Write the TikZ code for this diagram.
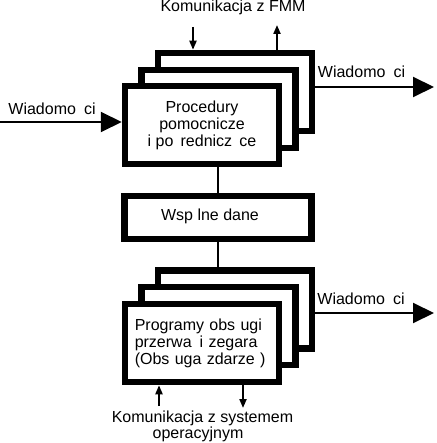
\documentclass[tikz,border=0pt]{standalone}
\usepackage{fontspec}
\setmainfont{Liberation Sans}
\usetikzlibrary{arrows.meta}
\begin{document}
\begin{tikzpicture}[x=1pt,y=-1pt,
  box/.style={draw, line width=6.5pt, fill=white, minimum width=154pt, minimum height=78pt, inner sep=0pt},
  txt/.style={font=\fontsize{16}{17}\selectfont},
  lbl/.style={txt, inner sep=0pt, anchor=base},
  conn/.style={line width=2pt},
  big/.style={conn, -{Triangle[length=21pt,width=20pt]}},
  small/.style={conn, -{Triangle[length=9pt,width=7pt]}}]
\useasboundingbox (0,0) rectangle (436,443);

% upper stack
\node[box] (t1) at (234.75,92) {};
\node[box] (m1) at (218.25,109) {};
\node[box, txt, align=center] (f1) at (202,125) {Procedury\\pomocnicze\\i po\hspace{.45em}rednicz\hspace{.45em}ce};

% shared data
\node[draw, line width=6.5pt, fill=white, minimum width=187pt, minimum height=43pt, inner sep=0pt] (wsp) at (218,217.5) {};
\node[lbl] (wsptxt) at (210,220) {Wsp lne dane};

% lower stack
\node[box] (t2) at (234.75,309.5) {};
\node[box] (m2) at (218.25,326) {};
\node[box, txt, align=left, text width=134pt] (f2) at (201.75,343) {Programy obs ugi\\przerwa\hspace{.5em}i zegara\\(Obs uga zdarze )};

% connectors between blocks
\draw[conn] (f1.south -| wsp.north) -- (wsp.north);
\draw[conn] (wsp.south) -- (wsp.south |- t2.north);

% messages
\coordinate (inA) at (0,122);
\draw[big] (inA) -- (inA -| f1.west);
\coordinate (outA) at (434,87);
\draw[big] (outA -| t1.east) -- (outA);
\coordinate (outB) at (434,313);
\draw[big] (outB -| t2.east) -- (outB);

% FMM communication
\coordinate (fmmIn) at (193,27);
\draw[small] (fmmIn) -- (fmmIn |- t1.north);
\coordinate (fmmOut) at (277,25);
\draw[small] (fmmOut |- t1.north) -- (fmmOut);

% OS communication
\coordinate (osIn) at (159,406);
\draw[small] (osIn) -- (osIn |- f2.south);
\coordinate (osOut) at (243,408);
\draw[small] (osOut |- f2.south) -- (osOut);

% labels
\node[lbl] (fmm) at (233,11.5) {Komunikacja z FMM};
\node[lbl] (msgIn) at (52,115) {Wiadomo\hspace{.5em}ci};
\node[lbl] (msgOutA) at (361.5,78) {Wiadomo\hspace{.5em}ci};
\node[lbl] (msgOutB) at (361,304) {Wiadomo\hspace{.5em}ci};
\node[lbl] (os1) at (202.5,422) {Komunikacja z systemem};
\node[lbl] (os2) at (198,438) {operacyjnym};
\end{tikzpicture}
\end{document}
